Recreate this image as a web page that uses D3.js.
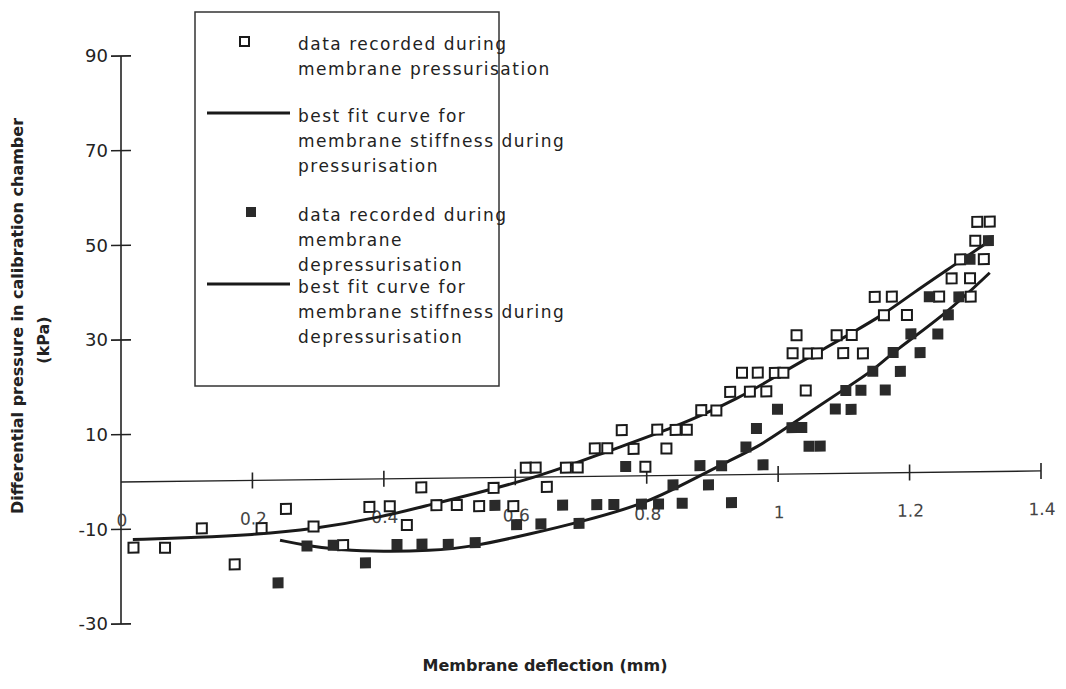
<!DOCTYPE html>
<html>
<head>
<meta charset="utf-8">
<script src="https://cdn.jsdelivr.net/npm/d3@7"></script>
<style>
  body { margin: 0; background: #fff; }
  svg text { font-family: "DejaVu Sans", sans-serif; fill: #222; }
</style>
</head>
<body>
<div id="chart"></div>
<script>
// pressurisation data (open squares)
var pressX = [0.019,0.067,0.123,0.173,0.214,0.251,0.293,0.338,0.378,0.409,0.435,0.457,0.480,0.511,0.545,0.567,0.597,0.616,0.631,0.648,0.677,0.695,0.721,0.740,0.762,0.780,0.798,0.816,0.830,0.844,0.861,0.883,0.906,0.927,0.957,0.982,0.945,0.969,0.995,1.008,1.042,1.022,1.046,1.059,1.099,1.129,1.028,1.089,1.112,1.147,1.173,1.161,1.196,1.245,1.293,1.264,1.292,1.277,1.313,1.300,1.303,1.322];
var pressY = [-13.9,-14.0,-10.0,-17.7,-10.1,-6.1,-9.9,-13.9,-5.9,-5.8,-9.8,-1.9,-5.7,-5.7,-6.0,-2.2,-6.1,2.0,2.0,-2.1,1.9,1.9,5.9,5.9,9.7,5.7,1.9,9.7,5.7,9.6,9.6,13.7,13.6,17.5,17.5,17.5,21.5,21.5,21.4,21.4,17.6,25.5,25.4,25.4,25.4,25.3,29.3,29.2,29.2,37.2,37.2,33.3,33.3,37.1,37.0,40.9,40.9,44.9,44.9,48.8,52.8,52.8];

// depressurisation data (filled squares)
var depressX = [0.239,0.283,0.323,0.372,0.420,0.458,0.498,0.539,0.569,0.602,0.639,0.672,0.697,0.724,0.750,0.768,0.792,0.818,0.840,0.854,0.881,0.894,0.914,0.929,0.951,0.967,0.977,0.999,1.021,1.036,1.047,1.064,1.087,1.111,1.103,1.126,1.163,1.144,1.186,1.175,1.216,1.202,1.243,1.259,1.230,1.275,1.292,1.320];
var depressY = [-21.7,-14.0,-13.9,-17.7,-13.9,-13.9,-14.0,-13.7,-5.9,-10.0,-9.9,-6.0,-9.9,-6.0,-6.0,2.0,-6.0,-6.0,-2.0,-5.9,2.0,-2.1,1.9,-5.9,5.8,9.7,2.0,13.7,9.8,9.8,5.8,5.8,13.6,13.5,17.5,17.5,17.5,21.5,21.4,25.4,25.3,29.3,29.2,33.2,37.1,37.0,44.9,48.8];

// best fit curves
var fitPressX = [0.018,0.120,0.196,0.292,0.399,0.470,0.531,0.638,0.739,0.841,0.942,1.003,1.064,1.109,1.160,1.205,1.257,1.315];
var fitPressY = [-12.2,-11.9,-11.5,-10.5,-8.0,-5.6,-3.6,0.1,5.2,10.0,16.2,21.2,25.9,29.4,33.4,37.9,42.7,48.1];
var fitDepressX = [0.242,0.282,0.333,0.399,0.470,0.531,0.627,0.699,0.797,0.866,0.916,0.972,1.003,1.105,1.144,1.175,1.257,1.322];
var fitDepressY = [-12.7,-13.9,-14.9,-15.4,-15.3,-14.7,-11.9,-9.6,-6.0,-1.2,2.3,6.0,8.9,18.2,21.6,25.5,33.6,42.0];

var xTicks = [0.2, 0.4, 0.6, 0.8, 1, 1.2, 1.4];
var xTickLabels = [0, 0.2, 0.4, 0.6, 0.8, 1, 1.2, 1.4];
var yTicks = [-30, -10, 10, 30, 50, 70, 90];

var legendItems = [
  { kind: 'open', lines: ['data recorded during', 'membrane pressurisation'] },
  { kind: 'line', lines: ['best fit curve for', 'membrane stiffness during', 'pressurisation'] },
  { kind: 'filled', lines: ['data recorded during', 'membrane', 'depressurisation'] },
  { kind: 'line', lines: ['best fit curve for', 'membrane stiffness during', 'depressurisation'] }
];

var width = 1066, height = 689;

var svg = d3.select('#chart').append('svg')
  .attr('width', width)
  .attr('height', height);

var x = d3.scaleLinear().domain([0, 1.4]).range([121, 1041]);
var y = d3.scaleLinear().domain([-30, 90]).range([624, 56]);

// the scanned original leans slightly: skew the plot around the y axis
var lean = -0.012;
var plot = svg.append('g')
  .attr('transform', 'matrix(1,' + lean + ',0,1,0,' + (-lean * x(0)) + ')');

// y axis
plot.append('line')
  .attr('x1', x(0)).attr('x2', x(0))
  .attr('y1', y(90)).attr('y2', y(-30))
  .attr('stroke', '#222').attr('stroke-width', 1.6);

plot.selectAll('.ytick').data(yTicks)
  .enter().append('line')
  .attr('class', 'ytick')
  .attr('x1', x(0) - 10).attr('x2', x(0) + 10)
  .attr('y1', function(d) { return y(d); })
  .attr('y2', function(d) { return y(d); })
  .attr('stroke', '#222').attr('stroke-width', 1.6);

svg.selectAll('.ylabel').data(yTicks)
  .enter().append('text')
  .attr('class', 'ylabel')
  .attr('x', 108)
  .attr('y', function(d) { return y(d); })
  .attr('dy', '0.36em')
  .attr('text-anchor', 'end')
  .style('font-size', '18px')
  .text(function(d) { return d; });

// x axis sits on y = 0
plot.append('line')
  .attr('x1', x(0)).attr('x2', x(1.4))
  .attr('y1', y(0)).attr('y2', y(0))
  .attr('stroke', '#222').attr('stroke-width', 1.3);

plot.selectAll('.xtick').data(xTicks)
  .enter().append('line')
  .attr('class', 'xtick')
  .attr('x1', function(d) { return x(d); })
  .attr('x2', function(d) { return x(d); })
  .attr('y1', y(0) - 8).attr('y2', y(0) + 8)
  .attr('stroke', '#222').attr('stroke-width', 1.6);

plot.selectAll('.xlabel').data(xTickLabels)
  .enter().append('text')
  .attr('class', 'xlabel')
  .attr('x', function(d) { return x(d) + 1; })
  .attr('y', y(0) + 38)
  .attr('dy', '0.36em')
  .attr('text-anchor', 'middle')
  .style('font-size', '17px')
  .style('fill', '#444')
  .text(function(d) { return d; });

// best fit curves
var line = d3.line()
  .x(function(d) { return x(d[0]); })
  .y(function(d) { return y(d[1]); })
  .curve(d3.curveBasis);

var fits = [d3.zip(fitPressX, fitPressY), d3.zip(fitDepressX, fitDepressY)];

plot.selectAll('.fit').data(fits)
  .enter().append('path')
  .attr('class', 'fit')
  .attr('d', line)
  .attr('fill', 'none')
  .attr('stroke', '#1a1a1a')
  .attr('stroke-width', 3);

// scatter
plot.selectAll('.press').data(d3.zip(pressX, pressY))
  .enter().append('rect')
  .attr('class', 'press')
  .attr('x', function(d) { return x(d[0]) - 5; })
  .attr('y', function(d) { return y(d[1]) - 5; })
  .attr('width', 10).attr('height', 10)
  .attr('fill', '#fff')
  .attr('stroke', '#1a1a1a').attr('stroke-width', 2);

plot.selectAll('.depress').data(d3.zip(depressX, depressY))
  .enter().append('rect')
  .attr('class', 'depress')
  .attr('x', function(d) { return x(d[0]) - 5.5; })
  .attr('y', function(d) { return y(d[1]) - 5.5; })
  .attr('width', 11).attr('height', 11)
  .attr('fill', '#2a2a2a');

// axis titles
svg.append('text')
  .attr('x', 545).attr('y', 671)
  .attr('text-anchor', 'middle')
  .style('font-size', '16px').style('font-weight', 'bold')
  .text('Membrane deflection (mm)');

svg.append('text')
  .attr('transform', 'translate(23,316) rotate(-90)')
  .attr('text-anchor', 'middle')
  .style('font-size', '16px').style('font-weight', 'bold')
  .text('Differential pressure in calibration chamber');

svg.append('text')
  .attr('transform', 'translate(49,340) rotate(-90)')
  .attr('text-anchor', 'middle')
  .style('font-size', '16px').style('font-weight', 'bold')
  .text('(kPa)');

// legend
var legend = svg.append('g').attr('class', 'legend');
legend.append('rect')
  .attr('x', 195).attr('y', 12)
  .attr('width', 304).attr('height', 374)
  .attr('fill', 'none')
  .attr('stroke', '#333').attr('stroke-width', 1.5);

var itemTop = [45, 117, 216, 288];
var lineGap = 25;

legendItems.forEach(function(item, i) {
  var g = legend.append('g');
  var top = itemTop[i];
  if (item.kind === 'open') {
    g.append('rect').attr('x', 240).attr('y', top - 8).attr('width', 9).attr('height', 9)
      .attr('fill', '#fff').attr('stroke', '#1a1a1a').attr('stroke-width', 2);
  } else if (item.kind === 'filled') {
    g.append('rect').attr('x', 246).attr('y', top - 9).attr('width', 10).attr('height', 10)
      .attr('fill', '#2a2a2a');
  } else {
    g.append('line').attr('x1', 207).attr('x2', 290)
      .attr('y1', top - 4).attr('y2', top - 4)
      .attr('stroke', '#1a1a1a').attr('stroke-width', 3);
  }
  g.selectAll('text').data(item.lines)
    .enter().append('text')
    .attr('x', 298)
    .attr('y', function(d, j) { return top + j * lineGap; })
    .attr('dy', '0.3em')
    .style('font-size', '17px')
    .style('letter-spacing', '1.5px')
    .text(function(d) { return d; });
});
</script>
</body>
</html>
